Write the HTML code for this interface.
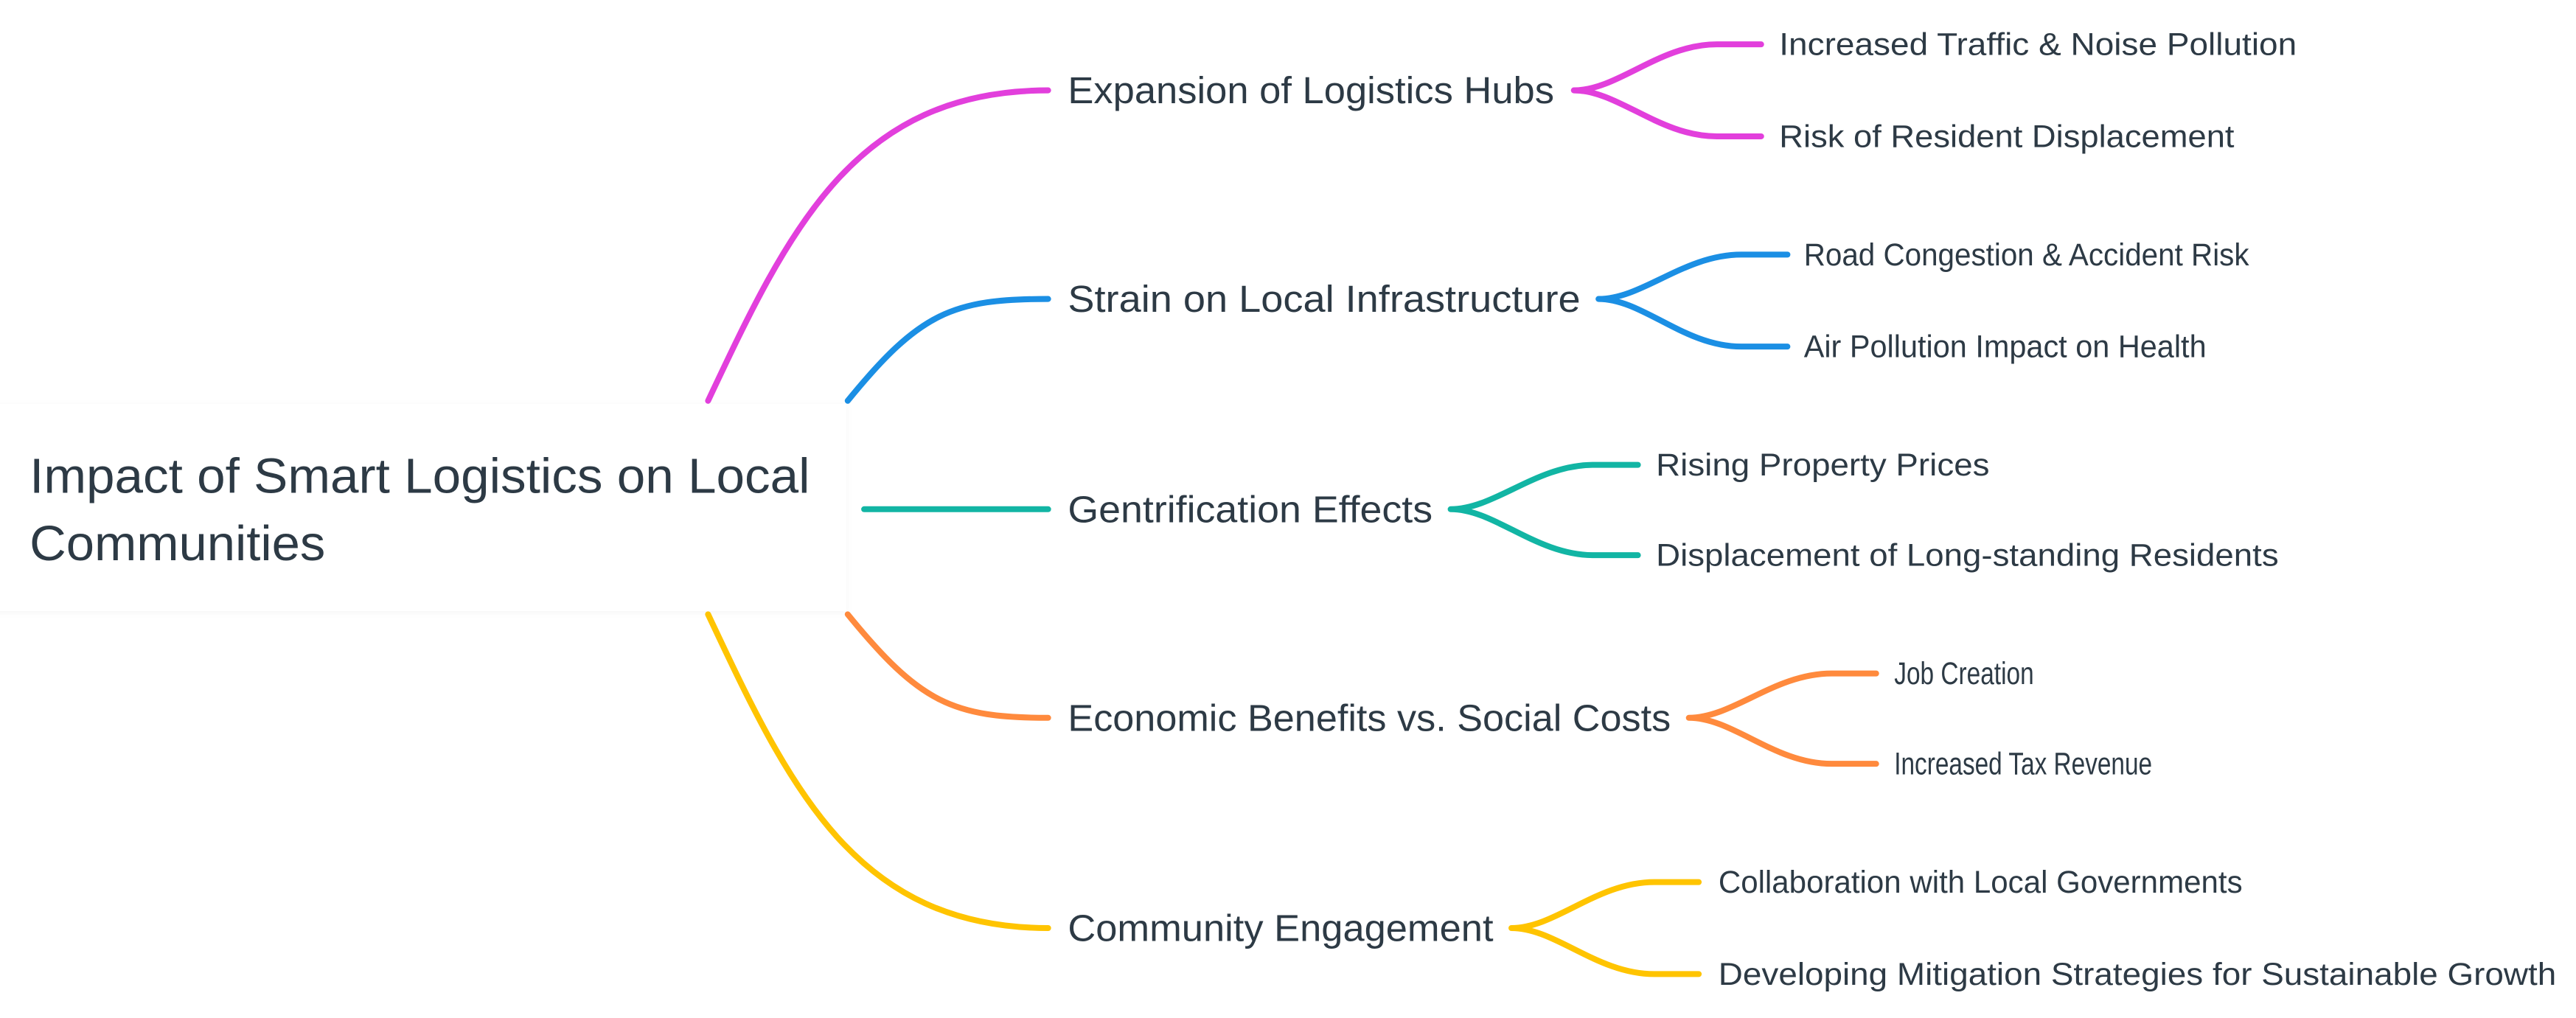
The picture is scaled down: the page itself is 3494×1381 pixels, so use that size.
<!DOCTYPE html>
<html><head><meta charset="utf-8"><style>
html,body{margin:0;padding:0;background:#fff;}
svg{display:block;}
text{font-family:"Liberation Sans",sans-serif;fill:#2d3a45;dominant-baseline:central;}
.m{font-size:23px;}
.l{font-size:19px;}
.r{font-size:30px;}
path{fill:none;stroke-width:3.6;stroke-linecap:round;}
</style></head><body>
<svg width="3494" height="1381" viewBox="0 0 1568 619.75" xmlns="http://www.w3.org/2000/svg">
<defs><filter id="sh" x="-5%" y="-20%" width="110%" height="140%"><feDropShadow dx="0" dy="1" stdDeviation="2" flood-color="#000" flood-opacity="0.04"/></filter></defs>
<rect x="-10" y="246" width="525" height="126" fill="#fff" filter="url(#sh)"/>
<text class="r" x="18" y="290" textLength="475" lengthAdjust="spacingAndGlyphs">Impact of Smart Logistics on Local</text>
<text class="r" x="18" y="331" textLength="180" lengthAdjust="spacingAndGlyphs">Communities</text>

<path stroke="#e23fdc" d="M431,244 C480,140 520,55 638,55"/>
<path stroke="#1b8fe4" d="M516,244 C560,190 580,182 638,182"/>
<path stroke="#12b5a4" d="M526,310 L638,310"/>
<path stroke="#ff8a3d" d="M516,374 C560,428 580,437 638,437"/>
<path stroke="#ffc400" d="M431,374 C480,478 520,565 638,565"/>

<text class="m" x="650" y="55" textLength="296" lengthAdjust="spacingAndGlyphs">Expansion of Logistics Hubs</text>
<text class="m" x="650" y="182" textLength="312" lengthAdjust="spacingAndGlyphs">Strain on Local Infrastructure</text>
<text class="m" x="650" y="310" textLength="222" lengthAdjust="spacingAndGlyphs">Gentrification Effects</text>
<text class="m" x="650" y="437" textLength="367" lengthAdjust="spacingAndGlyphs">Economic Benefits vs. Social Costs</text>
<text class="m" x="650" y="565" textLength="259" lengthAdjust="spacingAndGlyphs">Community Engagement</text>

<path stroke="#e23fdc" d="M958,55 C985,55 1010,27 1045,27 L1072,27 M958,55 C985,55 1010,83 1045,83 L1072,83"/>
<path stroke="#1b8fe4" d="M973,182 C1000,182 1025,155 1060,155 L1088,155 M973,182 C1000,182 1025,211 1060,211 L1088,211"/>
<path stroke="#12b5a4" d="M883,310 C910,310 935,283 970,283 L997,283 M883,310 C910,310 935,338 970,338 L997,338"/>
<path stroke="#ff8a3d" d="M1028,437 C1055,437 1080,410 1115,410 L1142,410 M1028,437 C1055,437 1080,465 1115,465 L1142,465"/>
<path stroke="#ffc400" d="M920,565 C947,565 972,537 1007,537 L1034,537 M920,565 C947,565 972,593 1007,593 L1034,593"/>

<text class="l" x="1083" y="27" textLength="315" lengthAdjust="spacingAndGlyphs">Increased Traffic &amp; Noise Pollution</text>
<text class="l" x="1083" y="83" textLength="277" lengthAdjust="spacingAndGlyphs">Risk of Resident Displacement</text>
<text class="l" x="1098" y="155" textLength="271" lengthAdjust="spacingAndGlyphs">Road Congestion &amp; Accident Risk</text>
<text class="l" x="1098" y="211" textLength="245" lengthAdjust="spacingAndGlyphs">Air Pollution Impact on Health</text>
<text class="l" x="1008" y="283" textLength="203" lengthAdjust="spacingAndGlyphs">Rising Property Prices</text>
<text class="l" x="1008" y="338" textLength="379" lengthAdjust="spacingAndGlyphs">Displacement of Long-standing Residents</text>
<text class="l" x="1153" y="410" textLength="85" lengthAdjust="spacingAndGlyphs">Job Creation</text>
<text class="l" x="1153" y="465" textLength="157" lengthAdjust="spacingAndGlyphs">Increased Tax Revenue</text>
<text class="l" x="1046" y="537" textLength="319" lengthAdjust="spacingAndGlyphs">Collaboration with Local Governments</text>
<text class="l" x="1046" y="593" textLength="510" lengthAdjust="spacingAndGlyphs">Developing Mitigation Strategies for Sustainable Growth</text>
</svg>
</body></html>
